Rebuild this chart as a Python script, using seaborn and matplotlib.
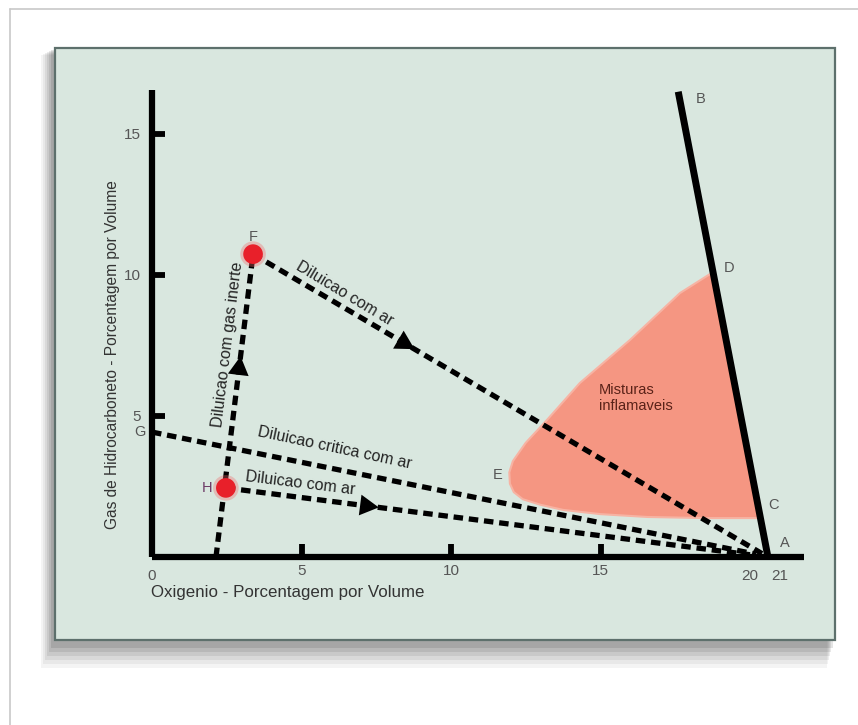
import matplotlib
matplotlib.use("Agg")
import matplotlib.pyplot as plt
import seaborn as sns
import pandas as pd
import numpy as np
from matplotlib.patches import Rectangle
from matplotlib.lines import Line2D

sns.set_theme(style="white")
plt.rcParams['font.family'] = ['Liberation Sans', 'DejaVu Sans']

# ---------------- data ----------------
x_ticks = [5, 10, 15]
x_tick_labels = ["5", "10", "15"]
x_extra_ticks = [0, 20, 21]
x_extra_labels = ["0", "20", "21"]
y_ticks = [5, 10, 15]
y_tick_labels = ["5", "10", "15"]

point_names = ["A", "B", "C", "D", "E", "F", "G", "H"]
point_x = [20.6, 17.6, 20.35, 18.76, 12.0, 3.38, 0.0, 2.47]
point_y = [0.0, 16.5, 1.38, 10.1, 2.9, 10.74, 4.43, 2.45]

# flammable limit line B-A
boundary_x = [17.6, 20.6]
boundary_y = [16.5, 0.0]

# dilution paths
path_names = ["F-A", "G-A", "H-A", "inerte"]
path_x = [[3.38, 20.4], [0.0, 20.2], [2.47, 20.0], [2.14, 3.38]]
path_y = [[10.74, 0.12], [4.43, 0.10], [2.45, 0.08], [0.0, 10.74]]
arrow_frac = {"F-A": 0.31, "H-A": 0.285, "inerte": 0.66}

# flammable mixtures region
region_x = [18.76, 17.66, 15.99, 14.31, 13.21, 12.5, 12.07, 11.95, 11.97, 12.1, 12.4,
            13.0, 13.75, 15.0, 16.56, 18.5, 20.35]
region_y = [10.1, 9.36, 7.70, 6.17, 4.86, 4.05, 3.40, 3.0, 2.6, 2.3, 2.05,
            1.85, 1.67, 1.52, 1.42, 1.38, 1.38]

red_x = [3.38, 2.47]
red_y = [10.74, 2.45]

# ---------------- figure ----------------
W, H = 858, 725
fig = plt.figure(figsize=(W / 100, H / 100), dpi=100)
fig.patch.set_facecolor("white")

def fr(px, py, pw, ph):
    return (px / W, 1 - (py + ph) / H, pw / W, ph / H)

# outer thin frame
fig.add_artist(Line2D([10 / W, 1], [1 - 9 / H, 1 - 9 / H], color="#c8c8c8", lw=1.2))
fig.add_artist(Line2D([10 / W, 10 / W], [0, 1 - 9 / H], color="#c8c8c8", lw=1.2))

# shadow
for i, a in enumerate([0.05, 0.06, 0.08, 0.09, 0.11, 0.13]):
    d = 14 - 2 * i
    r = fr(55 - d, 48 + d * 0.5, 780 + d * 0.4, 592 + d * 1.5)
    fig.add_artist(Rectangle(r[:2], r[2], r[3], transform=fig.transFigure,
                             facecolor="#303030", alpha=a, edgecolor="none", zorder=0))

# panel
p = fr(55, 48, 780, 592)
fig.add_artist(Rectangle(p[:2], p[2], p[3], transform=fig.transFigure,
                         facecolor="#d9e7df", edgecolor="#5d706c", lw=1.6, zorder=1))

# axes: x 0 at px 152, 29.9 px/unit ; y 0 at py 557, 28.2 px/unit
x0, y0 = 152, 557
sx, sy = 29.9, 28.2
xmax, ymax = (804 - x0) / sx, (y0 - 90) / sy
ax = fig.add_axes(fr(x0, 90, 804 - x0, y0 - 90))
ax.set_zorder(2)
ax.set_facecolor("none")
ax.set_xlim(0, xmax)
ax.set_ylim(0, ymax)

for s in ["top", "right"]:
    ax.spines[s].set_visible(False)
for s in ["left", "bottom"]:
    ax.spines[s].set_linewidth(4.5)
    ax.spines[s].set_color("black")
    ax.spines[s].set_capstyle("butt")

ax.set_xticks(x_ticks)
ax.set_xticklabels(x_tick_labels)
ax.set_xticks(x_extra_ticks, minor=True)
ax.set_xticklabels(x_extra_labels, minor=True)
ax.set_yticks(y_ticks)
ax.set_yticklabels(y_tick_labels)
ax.tick_params(axis="both", which="major", direction="in", length=9.5, width=4.2,
               color="black", labelsize=11, labelcolor="#555555",
               bottom=True, left=True)
ax.tick_params(axis="x", which="major", pad=5)
ax.tick_params(axis="y", which="major", pad=8)
ax.tick_params(axis="x", which="minor", length=0, pad=8.5, labelsize=11,
               labelcolor="#555555", bottom=True)

# flammable region
ax.fill(region_x, region_y, facecolor="#f59682", edgecolor="#f7b3a3", lw=1.5, zorder=2)

# dashed dilution paths
for name, xs, ys in zip(path_names, path_x, path_y):
    df = pd.DataFrame({"x": xs, "y": ys})
    sns.lineplot(data=df, x="x", y="y", ax=ax, sort=False, color="black",
                 lw=3.8, zorder=4)
    ax.lines[-1].set_dashes([1.8, 1.1])
    ax.lines[-1].set_dash_capstyle("butt")
    if name in arrow_frac:
        f = arrow_frac[name]
        xa = xs[0] + f * (xs[1] - xs[0])
        ya = ys[0] + f * (ys[1] - ys[0])
        e = 0.012
        ax.annotate("", xy=(xa + e * (xs[1] - xs[0]), ya + e * (ys[1] - ys[0])),
                    xytext=(xa - e * (xs[1] - xs[0]), ya - e * (ys[1] - ys[0])),
                    arrowprops=dict(arrowstyle="-|>,head_length=0.9,head_width=0.5",
                                    color="black", lw=0, mutation_scale=15),
                    zorder=5)

# boundary line B-A
sns.lineplot(x=boundary_x, y=boundary_y, ax=ax, sort=False, color="black",
             lw=5.0, zorder=5)
ax.lines[-1].set_solid_capstyle("butt")

# red state points
sns.scatterplot(x=red_x, y=red_y, ax=ax, s=340, color="#f06a6a", alpha=0.35,
                edgecolor="none", zorder=6, legend=False)
sns.scatterplot(x=red_x, y=red_y, ax=ax, s=200, color="#e8202a",
                edgecolor="none", zorder=7, legend=False)

ax.set_xlabel("")
ax.set_ylabel("")

# point letters
pt = dict(zip(point_names, zip(point_x, point_y)))
letter_off = {"A": (0.55, 0.5), "B": (0.75, -0.25), "C": (0.45, 0.45),
              "D": (0.55, 0.15), "E": (-0.45, 0.0), "F": (0.0, 0.62),
              "G": (-0.4, 0.0), "H": (-0.62, 0.0)}
letter_col = {"H": "#6d3a66"}
for nme in point_names:
    px, py = pt[nme]
    ox, oy = letter_off[nme]
    ax.text(px + ox, py + oy, nme, fontsize=10.5, color=letter_col.get(nme, "#555555"),
            ha="center", va="center", zorder=8, clip_on=False)

# annotations
ann = dict(fontsize=11.5, color="#222222", ha="center", va="center",
           rotation_mode="anchor")
ax.text((345 - x0) / sx, (y0 - 294) / sy, "Diluicao com ar", rotation=-31, **ann)
ax.text((335 - x0) / sx, (y0 - 448) / sy, "Diluicao critica com ar", rotation=-12, **ann)
ax.text((300 - x0) / sx, (y0 - 483) / sy, "Diluicao com ar", rotation=-7, **ann)
ax.text((228 - x0) / sx, (y0 - 344) / sy, "Diluicao com gas inerte", rotation=83, **ann)
ax.text((599 - x0) / sx, (y0 - 398) / sy, "Misturas\ninflamaveis", fontsize=10.5,
        color="#5a2218", ha="left", va="center", linespacing=1.1)

# axis titles
fig.text(151 / W, 1 - 593 / H, "Oxigenio - Porcentagem por Volume", fontsize=12.2,
         color="#333333", ha="left", va="center")
fig.text(113 / W, 1 - 355 / H, "Gas de Hidrocarboneto - Porcentagem por Volume",
         fontsize=11.2, color="#333333", ha="center", va="center", rotation=90)

fig.savefig("out.png", dpi=100, facecolor="white")
